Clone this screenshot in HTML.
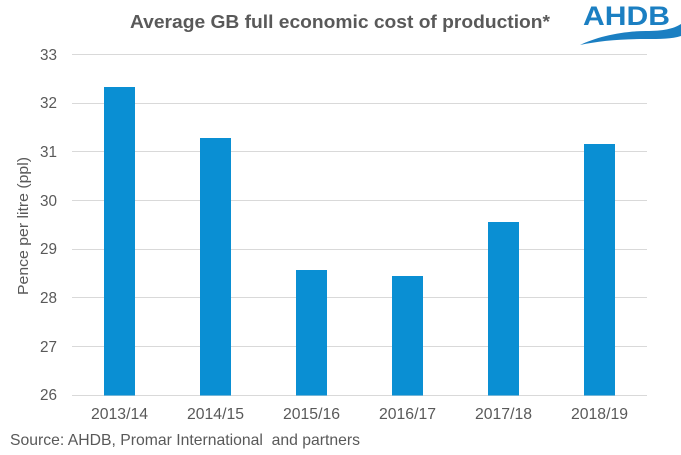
<!DOCTYPE html>
<html>
<head>
<meta charset="utf-8">
<style>
html,body{margin:0;padding:0;background:#fff;}
svg{display:block;}
text{font-family:"Liberation Sans",Arial,sans-serif;}
</style>
</head>
<body>
<svg width="681" height="455" viewBox="0 0 681 455" xmlns="http://www.w3.org/2000/svg">
  <rect width="681" height="455" fill="#fff"/>
  <!-- title -->
  <text x="130" y="28" font-size="18" font-weight="bold" fill="#595959" textLength="420" lengthAdjust="spacingAndGlyphs">Average GB full economic cost of production*</text>
  <!-- logo -->
  <text x="583" y="25" font-size="27" font-weight="bold" fill="#1b7fc2" textLength="87" lengthAdjust="spacingAndGlyphs">AHDB</text>
  <path d="M580,45 C596,37 622,31 646,31 C663,31 673,29 681,24 L681,36 C672,39 660,39 645,39 C620,39 598,41 580,45 Z" fill="#1b7fc2"/>
  <!-- gridlines -->
  <g stroke="#d9d9d9" stroke-width="1">
    <line x1="72" y1="54.5" x2="647" y2="54.5"/>
    <line x1="72" y1="103.5" x2="647" y2="103.5"/>
    <line x1="72" y1="151.5" x2="647" y2="151.5"/>
    <line x1="72" y1="200.5" x2="647" y2="200.5"/>
    <line x1="72" y1="249.5" x2="647" y2="249.5"/>
    <line x1="72" y1="297.5" x2="647" y2="297.5"/>
    <line x1="72" y1="346.5" x2="647" y2="346.5"/>
    <line x1="72" y1="395.5" x2="647" y2="395.5"/>
  </g>
  <!-- y tick labels -->
  <g font-size="16" fill="#595959" text-anchor="end">
    <text x="57" y="60" textLength="17" lengthAdjust="spacingAndGlyphs">33</text>
    <text x="57" y="108" textLength="17" lengthAdjust="spacingAndGlyphs">32</text>
    <text x="57" y="157" textLength="17" lengthAdjust="spacingAndGlyphs">31</text>
    <text x="57" y="206" textLength="17" lengthAdjust="spacingAndGlyphs">30</text>
    <text x="57" y="254" textLength="17" lengthAdjust="spacingAndGlyphs">29</text>
    <text x="57" y="303" textLength="17" lengthAdjust="spacingAndGlyphs">28</text>
    <text x="57" y="352" textLength="17" lengthAdjust="spacingAndGlyphs">27</text>
    <text x="57" y="400" textLength="17" lengthAdjust="spacingAndGlyphs">26</text>
  </g>
  <!-- axis title -->
  <text transform="translate(28,226) rotate(-90)" font-size="15" fill="#595959" text-anchor="middle" textLength="138" lengthAdjust="spacingAndGlyphs">Pence per litre (ppl)</text>
  <!-- bars -->
  <g fill="#0a8fd3">
    <rect x="104" y="87" width="31" height="308.5"/>
    <rect x="200" y="138" width="31" height="257.5"/>
    <rect x="296" y="270" width="31" height="125.5"/>
    <rect x="392" y="276" width="31" height="119.5"/>
    <rect x="488" y="222" width="31" height="173.5"/>
    <rect x="584" y="144" width="31" height="251.5"/>
  </g>
  <!-- x labels -->
  <g font-size="16" fill="#595959" text-anchor="middle">
    <text x="119.5" y="419" textLength="57" lengthAdjust="spacingAndGlyphs">2013/14</text>
    <text x="215.5" y="419" textLength="57" lengthAdjust="spacingAndGlyphs">2014/15</text>
    <text x="311.5" y="419" textLength="57" lengthAdjust="spacingAndGlyphs">2015/16</text>
    <text x="407.5" y="419" textLength="57" lengthAdjust="spacingAndGlyphs">2016/17</text>
    <text x="503.5" y="419" textLength="57" lengthAdjust="spacingAndGlyphs">2017/18</text>
    <text x="599.5" y="419" textLength="57" lengthAdjust="spacingAndGlyphs">2018/19</text>
  </g>
  <!-- source -->
  <text x="10" y="445" font-size="16" fill="#595959" style="white-space:pre" xml:space="preserve" textLength="350" lengthAdjust="spacingAndGlyphs">Source: AHDB, Promar International  and partners</text>
</svg>
</body>
</html>
